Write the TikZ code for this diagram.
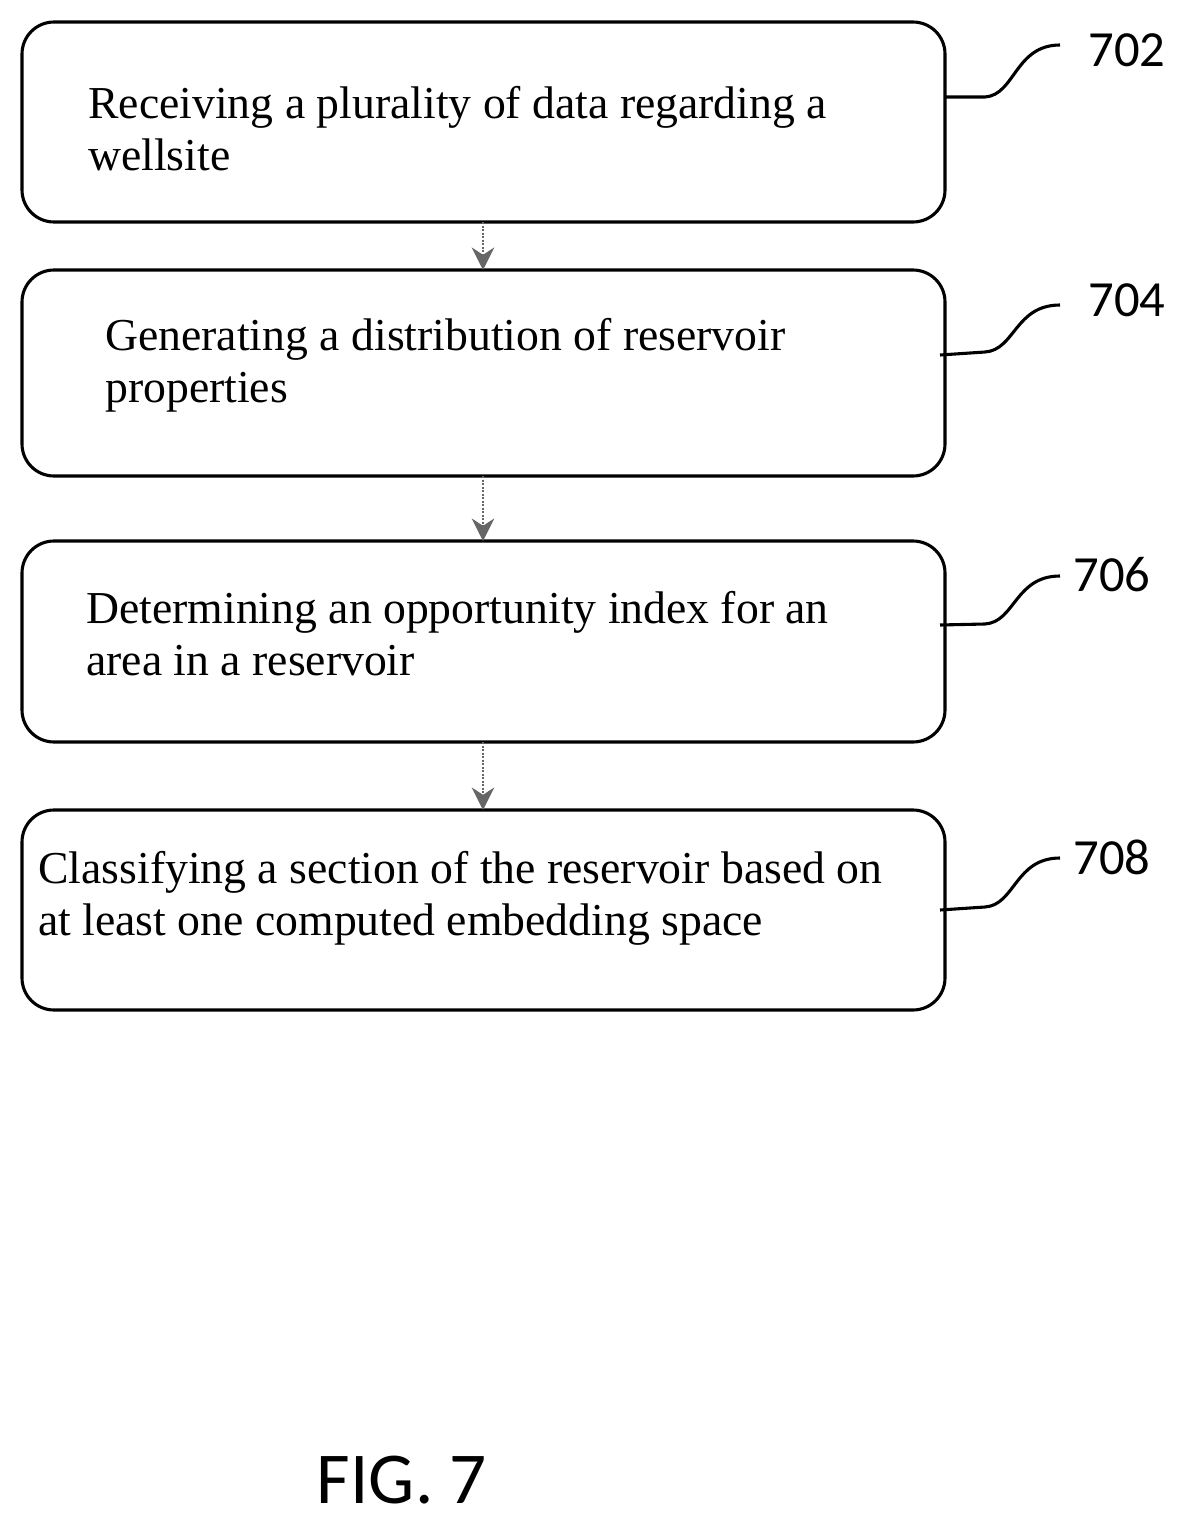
\documentclass[tikz,border=0pt]{standalone}
\usepackage{fontspec}
\setmainfont{Liberation Serif}
\newfontfamily\labelfont{Carlito}
\usetikzlibrary{arrows.meta}

\begin{document}
\begin{tikzpicture}[x=0.025cm, y=-0.025cm,
  box/.style={draw=black, line width=2.2pt, rounded corners=0.8cm, inner sep=0pt},
  steptext/.style={anchor=west, align=left, font=\fontsize{32.5}{37}\selectfont, inner sep=0pt},
  reflabel/.style={font=\labelfont\fontsize{36}{40}\selectfont, inner sep=0pt},
  leader/.style={line width=2.2pt},
  flow/.style={draw=black!60, densely dotted, line width=1.5pt, -{Stealth[length=16pt,width=16pt]}}]
\useasboundingbox (0,0) rectangle (1184,1525);

% boxes
\draw[box] (22,22) rectangle (945,222);
\draw[box] (22,270) rectangle (945,476);
\draw[box] (22,541) rectangle (945,742);
\draw[box] (22,810) rectangle (945,1010);
\coordinate (b1bot) at (483,222);
\coordinate (b2top) at (483,270);  \coordinate (b2bot) at (483,476);
\coordinate (b3top) at (483,541);  \coordinate (b3bot) at (483,742);
\coordinate (b4top) at (483,810);

% step texts
\node (receive) [steptext] at (88,129) {Receiving a plurality of data regarding a\\wellsite};
\node (generate) [steptext] at (105,365) {Generating a distribution of reservoir\\properties};
\node (determine) [steptext] at (86,634) {Determining an opportunity index for an\\area in a reservoir};
\node (classify) [steptext] at (38,898) {Classifying a section of the reservoir based on\\at least one computed embedding space};

% reference numerals
\node (n702) [reflabel] at (1127,50) {702};
\node (n704) [reflabel] at (1127,300) {704};
\node (n706) [reflabel] at (1112,575) {706};
\node (n708) [reflabel] at (1112,857) {708};
\coordinate (e702) at (945,97);
\coordinate (e704) at (940,355);
\coordinate (e706) at (940,625);
\coordinate (e708) at (940,910);
\draw[leader] (e702) -- (985,97) .. controls (1015,95) and (1015,45) .. (1060,45);
\draw[leader] (e704) -- (985,352) .. controls (1015,350) and (1015,305) .. (1060,305);
\draw[leader] (e706) -- (985,624) .. controls (1015,622) and (1015,576) .. (1060,576);
\draw[leader] (e708) -- (985,907) .. controls (1015,905) and (1015,858) .. (1060,858);

% flow
\draw[flow] (b1bot) -- (b2top);
\draw[flow] (b2bot) -- (b3top);
\draw[flow] (b3bot) -- (b4top);

\node (fig) [font=\labelfont\fontsize{52}{56}\selectfont] at (402,1480) {FIG. 7};
\end{tikzpicture}
\end{document}
